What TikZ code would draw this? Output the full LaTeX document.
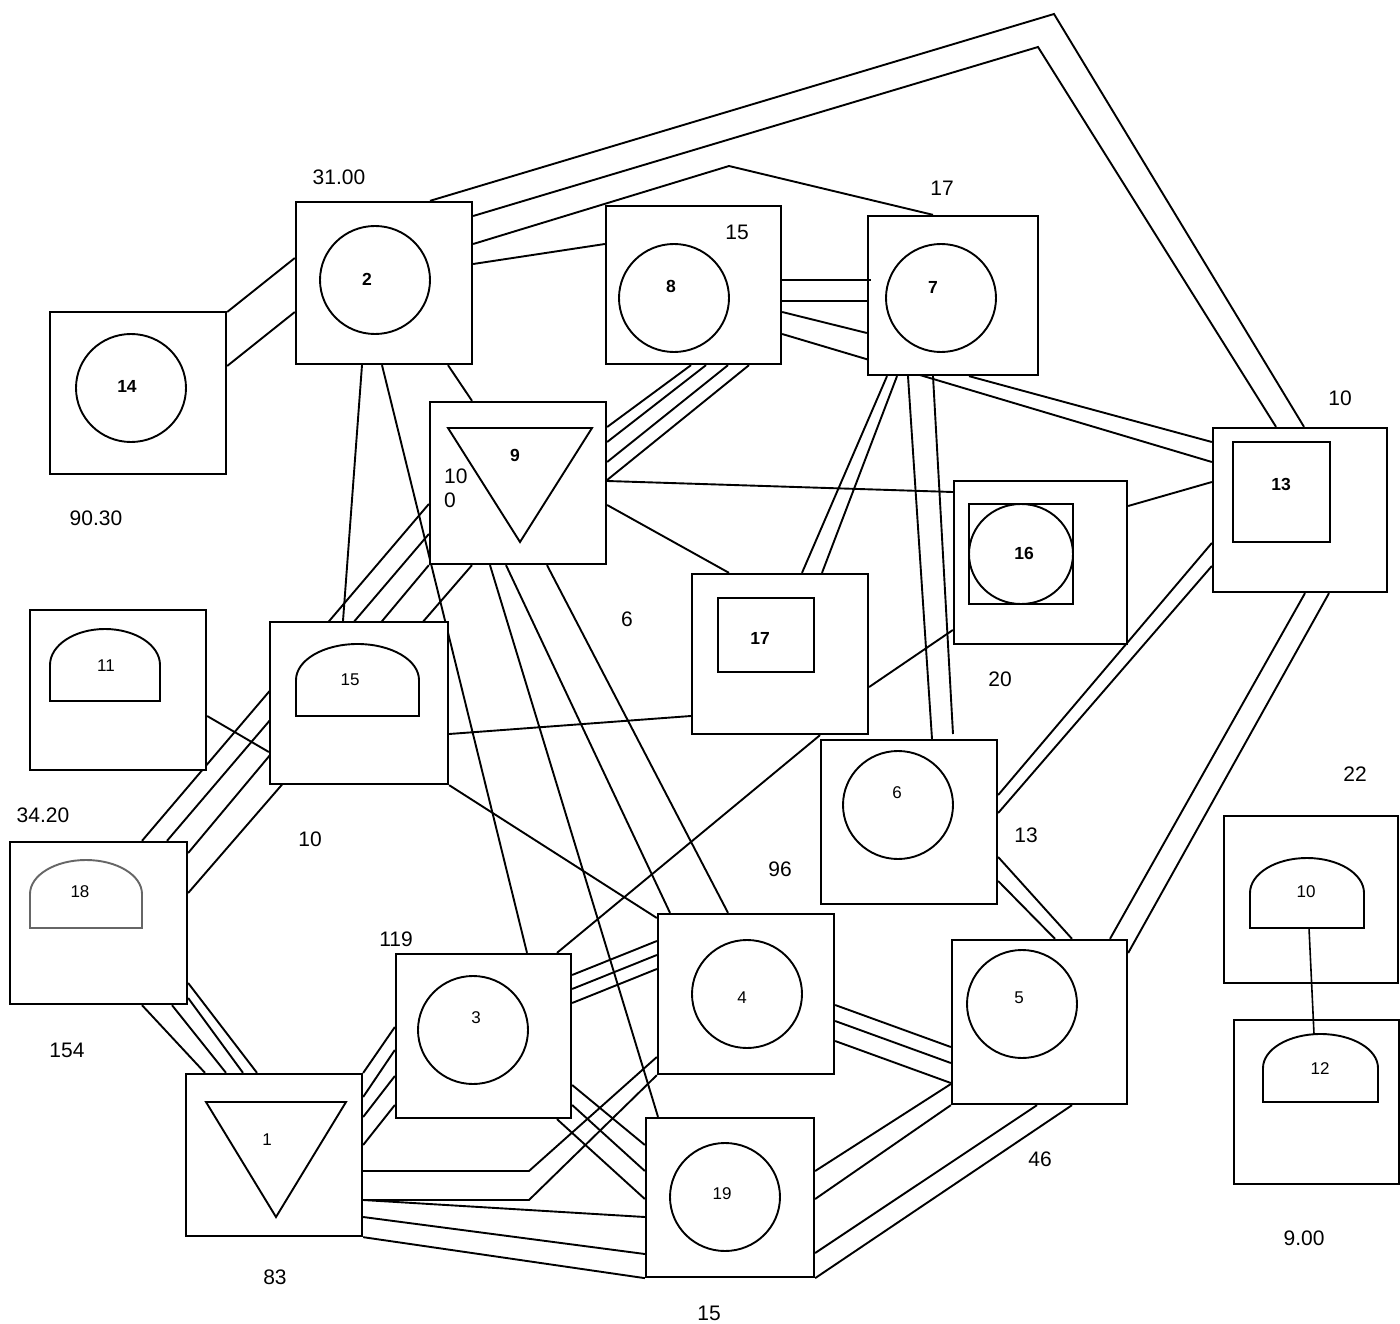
\documentclass[tikz,border=0pt]{standalone}
\usepackage{fontspec}
\setmainfont{Liberation Sans}
\usetikzlibrary{backgrounds}
\tikzset{
  box/.style={draw, fill=white, line width=2.3pt, rectangle, inner sep=0pt},
  edge/.style={line width=1.9pt},
  inner/.style={line width=1.9pt},
  blab/.style={font=\fontsize{17.5}{20}\selectfont\bfseries, inner sep=0pt},
  nlab/.style={font=\fontsize{17}{20}\selectfont, inner sep=0pt},
  vlab/.style={font=\fontsize{21}{24}\selectfont, inner sep=0pt},
}
\begin{document}
\begin{tikzpicture}[x=1pt,y=-1pt]
\useasboundingbox (0,0) rectangle (1400,1324);
% boxes
\node[box, minimum width=176pt, minimum height=162pt] (n2) at (384,283) {};
\node[box, minimum width=175pt, minimum height=158pt] (n8) at (693.5,285) {};
\node[box, minimum width=170pt, minimum height=159pt] (n7) at (953,295.5) {};
\node[box, minimum width=176pt, minimum height=162pt] (n14) at (138,393) {};
\node[box, minimum width=176pt, minimum height=162pt] (n9) at (518,483) {};
\node[box, minimum width=174pt, minimum height=164pt] (n13) at (1300,510) {};
\node[box, minimum width=173pt, minimum height=163pt] (n16) at (1040.5,562.5) {};
\node[box, minimum width=176pt, minimum height=160pt] (n17) at (780,654) {};
\node[box, minimum width=176pt, minimum height=160pt] (n11) at (118,690) {};
\node[box, minimum width=178pt, minimum height=162pt] (n15) at (359,703) {};
\node[box, minimum width=177pt, minimum height=162pt] (n18) at (98.5,923) {};
\node[box, minimum width=176pt, minimum height=164pt] (n6) at (909,822) {};
\node[box, minimum width=175pt, minimum height=164pt] (n3) at (483.5,1036) {};
\node[box, minimum width=176pt, minimum height=160pt] (n4) at (746,994) {};
\node[box, minimum width=175pt, minimum height=164pt] (n5) at (1039.5,1022) {};
\node[box, minimum width=168pt, minimum height=159pt] (n19) at (730,1197.5) {};
\node[box, minimum width=176pt, minimum height=162pt] (n1) at (274,1155) {};
\node[box, minimum width=174pt, minimum height=167pt] (n10) at (1311,899.5) {};
\node[box, minimum width=165pt, minimum height=164pt] (n12) at (1316.5,1102) {};
% bend points
\coordinate (p1) at (1054,14);
\coordinate (p2) at (1038,47);
\coordinate (p3) at (729,166);
\coordinate (p4) at (529,1171);
\coordinate (p5) at (529,1200);
\coordinate (d10b) at (1309,928);
\coordinate (d12t) at (1314,1034);
\begin{pgfonlayer}{background}
% from 2
\draw[edge] (n2.north -| 430,0) -- (p1) -- (n13.north -| 1304,0);
\draw[edge] (n2.east |- 0,216) -- (p2) -- (n13.north -| 1276,0);
\draw[edge] (n2.east |- 0,244) -- (p3) -- (n7.north -| 933,0);
\draw[edge] (n2.east |- 0,264) -- (n8.west |- 0,244);
\draw[edge] (n2.west |- 0,258) -- (n14.east |- 0,312);
\draw[edge] (n2.west |- 0,312) -- (n14.east |- 0,366);
\draw[edge] (n2.south -| 362,0) -- (n15.north -| 343,0);
\draw[edge] (n2.south -| 382,0) -- (n3.north -| 527,0);
\draw[edge] (n2.south -| 448,0) -- (n9.north -| 472,0);
% from 8
\draw[edge] (n8.east |- 0,301) -- (n7.west |- 0,301);
\draw[edge] (n8.east |- 0,312) -- (n7.west |- 0,333);
\draw[edge] (n8.east |- 0,334) -- (n13.west |- 0,462);
\draw[edge] (n8.south -| 691,0) -- (n9.east |- 0,427);
\draw[edge] (n8.south -| 706,0) -- (n9.east |- 0,442);
\draw[edge] (n8.south -| 728,0) -- (n9.east |- 0,462);
\draw[edge] (n8.south -| 749,0) -- (n9.east |- 0,480);
% from 7
\draw[edge] (n7.south -| 969,0) -- (n13.west |- 0,442);
\draw[edge] (n7.south -| 887,0) -- (n17.north -| 802,0);
\draw[edge] (n7.south -| 897,0) -- (n17.north -| 822,0);
\draw[edge] (n7.south -| 908,0) -- (n6.north -| 932,0);
\draw[edge] (n7.south -| 933,0) -- (953,734);
% from 9
\draw[edge] (n9.east |- 0,481) -- (n16.west |- 0,492);
\draw[edge] (n9.east |- 0,505) -- (n17.north -| 729,0);
\draw[edge] (n9.west |- 0,504) -- (n18.north -| 142,0);
\draw[edge] (n9.west |- 0,534) -- (n18.north -| 167,0);
\draw[edge] (n9.south west) -- (n18.east |- 0,853);
\draw[edge] (n9.south -| 472,0) -- (n18.east |- 0,893);
\draw[edge] (n9.south -| 490,0) -- (n19.north -| 658,0);
\draw[edge] (n9.south -| 506,0) -- (n4.north -| 670,0);
\draw[edge] (n9.south -| 547,0) -- (n4.north -| 728,0);
% from 15, 11, 17, 16
\draw[edge] (n15.east |- 0,734) -- (n17.west |- 0,716);
\draw[edge] (n15.south east) -- (n4.west |- 0,918);
\draw[edge] (n11.east |- 0,716) -- (n15.west |- 0,752);
\draw[edge] (n17.south -| 820,0) -- (n3.north -| 557,0);
\draw[edge] (n17.east |- 0,687) -- (n16.west |- 0,630);
\draw[edge] (n16.east |- 0,506) -- (n13.west |- 0,482);
% from 13
\draw[edge] (n13.west |- 0,543) -- (n6.east |- 0,795);
\draw[edge] (n13.west |- 0,566) -- (n6.east |- 0,813);
\draw[edge] (n13.south -| 1305,0) -- (n5.north -| 1110,0);
\draw[edge] (n13.south -| 1329,0) -- (n5.east |- 0,953);
% from 6
\draw[edge] (n6.east |- 0,857) -- (n5.north -| 1072,0);
\draw[edge] (n6.east |- 0,881) -- (n5.north -| 1055,0);
% from 4
\draw[edge] (n4.east |- 0,1005) -- (n5.west |- 0,1047);
\draw[edge] (n4.east |- 0,1021) -- (n5.west |- 0,1063);
\draw[edge] (n4.east |- 0,1041) -- (n5.west |- 0,1083);
% from 19
\draw[edge] (n19.east |- 0,1171) -- (n5.west |- 0,1084);
\draw[edge] (n19.east |- 0,1199) -- (n5.south west);
\draw[edge] (n19.east |- 0,1253) -- (n5.south -| 1037,0);
\draw[edge] (n19.south east) -- (n5.south -| 1072,0);
% from 3
\draw[edge] (n3.east |- 0,975) -- (n4.west |- 0,941);
\draw[edge] (n3.east |- 0,989) -- (n4.west |- 0,955);
\draw[edge] (n3.east |- 0,1003) -- (n4.west |- 0,969);
\draw[edge] (n3.east |- 0,1085) -- (n19.west |- 0,1145);
\draw[edge] (n3.east |- 0,1105) -- (n19.west |- 0,1171);
\draw[edge] (n3.south -| 557,0) -- (n19.west |- 0,1199);
% from 1
\draw[edge] (n1.east |- 0,1073) -- (n3.west |- 0,1027);
\draw[edge] (n1.east |- 0,1097) -- (n3.west |- 0,1050);
\draw[edge] (n1.east |- 0,1117) -- (n3.west |- 0,1076);
\draw[edge] (n1.east |- 0,1145) -- (n3.west |- 0,1105);
\draw[edge] (n1.east |- 0,1171) -- (p4) -- (n4.west |- 0,1057);
\draw[edge] (n1.east |- 0,1200) -- (p5) -- (n4.south west);
\draw[edge] (n1.east |- 0,1200) -- (n19.west |- 0,1217);
\draw[edge] (n1.east |- 0,1217) -- (n19.west |- 0,1254);
\draw[edge] (n1.south east) -- (n19.south west);
% from 18
\draw[edge] (n18.south -| 142,0) -- (n1.north -| 205,0);
\draw[edge] (n18.south -| 172,0) -- (n1.north -| 226,0);
\draw[edge] (n18.east |- 0,998) -- (n1.north -| 243,0);
\draw[edge] (n18.east |- 0,983) -- (n1.north -| 257,0);
\end{pgfonlayer}
% overshooting edge 8 -> 7
\draw[edge] (n8.east |- 0,280) -- (n7.west |- 0,280) -- ++(4,0);
% inner shapes
\draw[inner] (375,280) ellipse [x radius=55pt, y radius=54pt];
\draw[inner] (674,298) ellipse [x radius=55pt, y radius=54pt];
\draw[inner] (941,298) ellipse [x radius=55pt, y radius=54pt];
\draw[inner] (131,388) ellipse [x radius=55pt, y radius=54pt];
\draw[inner] (898,805) ellipse [x radius=55pt, y radius=54pt];
\draw[inner] (473,1030) ellipse [x radius=55pt, y radius=54pt];
\draw[inner] (747,994) ellipse [x radius=55pt, y radius=54pt];
\draw[inner] (725,1197) ellipse [x radius=55pt, y radius=54pt];
\draw[inner] (1022,1004) ellipse [x radius=55pt, y radius=54pt];
\draw[inner] (1233,442) rectangle (1330,542);
\draw[inner] (969,504) rectangle (1073,604);
\draw[inner] (1021,554) ellipse [x radius=52pt, y radius=50pt];
\draw[inner] (718,598) rectangle (814,672);
\draw[inner] (448,428) -- (592,428) -- (520,542) -- cycle;
\draw[inner] (206,1102) -- (346,1102) -- (276,1217) -- cycle;
\draw[inner] (50,701) -- (50,665) arc[start angle=180, end angle=0, x radius=55pt, y radius=36pt] -- (160,701) -- cycle;
\draw[inner] (296,716) -- (296,680) arc[start angle=180, end angle=0, x radius=61.5pt, y radius=36pt] -- (419,716) -- cycle;
\draw[inner, draw=black!60] (30,928) -- (30,894) arc[start angle=180, end angle=0, x radius=56pt, y radius=34pt] -- (142,928) -- cycle;
\draw[inner] (1250,928) -- (1250,893) arc[start angle=180, end angle=0, x radius=57pt, y radius=35pt] -- (1364,928) -- cycle;
\draw[inner] (1263,1102) -- (1263,1068) arc[start angle=180, end angle=0, x radius=57.5pt, y radius=34pt] -- (1378,1102) -- cycle;
\draw[edge, line width=1.6pt] (d10b) -- (d12t);
% node labels
\node[blab] (t2) at (367,279) {2};
\node[blab] (t8) at (671,286) {8};
\node[blab] (t7) at (933,287) {7};
\node[blab] (t14) at (127,386) {14};
\node[blab] (t9) at (515,455) {9};
\node[blab] (t13) at (1281,484) {13};
\node[blab] (t16) at (1024,553) {16};
\node[blab] (t17) at (760,638) {17};
\node[nlab] (t11) at (106,666) {11};
\node[nlab] (t15) at (350,680) {15};
\node[nlab] (t18) at (80,892) {18};
\node[nlab] (t6) at (897,793) {6};
\node[nlab] (t3) at (476,1018) {3};
\node[nlab] (t4) at (742,998) {4};
\node[nlab] (t5) at (1019,998) {5};
\node[nlab] (t19) at (722,1194) {19};
\node[nlab] (t1) at (267,1140) {1};
\node[nlab] (t10) at (1306,892) {10};
\node[nlab] (t12) at (1320,1069) {12};
% value labels
\node[vlab] (v1) at (339,177) {31.00};
\node[vlab] (v2) at (737,232) {15};
\node[vlab] (v3) at (942,188) {17};
\node[vlab] (v4) at (1340,398) {10};
\node[vlab] (v5) at (96,518) {90.30};
\node[vlab, align=left, anchor=west] (v6) at (444,488) {10\\0};
\node[vlab] (v7) at (627,619) {6};
\node[vlab] (v8) at (1000,679) {20};
\node[vlab] (v9) at (43,815) {34.20};
\node[vlab] (v10) at (310,839) {10};
\node[vlab] (v11) at (1355,774) {22};
\node[vlab] (v12) at (1026,835) {13};
\node[vlab] (v13) at (780,869) {96};
\node[vlab] (v14) at (396,939) {119};
\node[vlab] (v15) at (67,1050) {154};
\node[vlab] (v16) at (1040,1159) {46};
\node[vlab] (v17) at (275,1277) {83};
\node[vlab] (v18) at (1304,1238) {9.00};
\node[vlab] (v19) at (709,1313) {15};
\end{tikzpicture}
\end{document}
